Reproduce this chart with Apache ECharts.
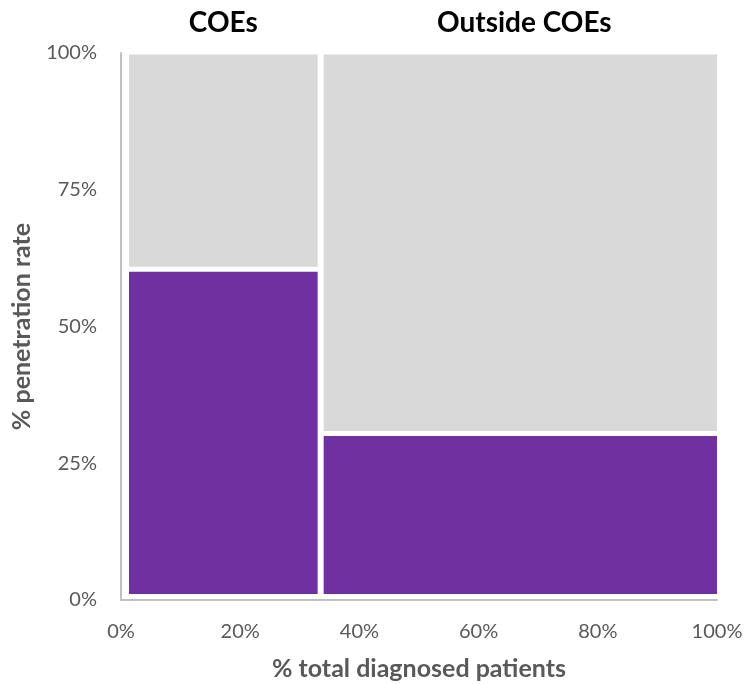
<!DOCTYPE html>
<html>
<head>
<meta charset="utf-8">
<script src="https://cdn.jsdelivr.net/npm/echarts@6/dist/echarts.min.js"></script>
<style>
  html, body { margin: 0; padding: 0; background: #fff; }
  #chart { width: 747px; height: 684px; }
</style>
</head>
<body>
<div id="chart"></div>
<script>
// Segments of the mekko: column width = share of diagnosed patients (%),
// purple height = penetration rate (%), grey fills the rest to 100%.
const segments = ['COEs', 'Outside COEs'];
const patientShare = [33.5, 66.5];
const penetration = [60, 30];
const xTicks = [0, 20, 40, 60, 80, 100];
const yTicks = [0, 25, 50, 75, 100];

const PURPLE = '#7030a0';
const GREY = '#d9d9d9';
const AXIS_TEXT = '#595959';
const FONT = 'Lato, "Open Sans", sans-serif';

// cumulative left edges of each column
const starts = [];
patientShare.reduce((acc, w, i) => { starts[i] = acc; return acc + w; }, 0);

const items = segments.map((name, i) => [starts[i], starts[i] + patientShare[i], penetration[i], name]);

function renderItem(params, api) {
  const i = params.dataIndex;
  const x0 = api.value(0), x1 = api.value(1), pen = api.value(2);
  const name = segments[i];
  const pBL = api.coord([x0, 0]);
  const pTR = api.coord([x1, 100]);
  const pPen = api.coord([x0, pen]);
  const last = i === segments.length - 1;
  // white separations between blocks
  const padL = i === 0 ? 8 : 3;
  const padR = last ? 0 : 3;
  const left = pBL[0] + padL;
  const right = pTR[0] - padR;
  const w = right - left;
  const baseGap = 6, splitGap = 5, topGap = 1.5;
  const purpleTop = pPen[1];
  const purpleBottom = pBL[1] - baseGap;
  const greyTop = pTR[1] + topGap;
  const greyBottom = pPen[1] - splitGap;
  const cx = (left + right) / 2;
  return {
    type: 'group',
    children: [
      { type: 'rect', shape: { x: left, y: purpleTop, width: w, height: purpleBottom - purpleTop }, style: { fill: PURPLE } },
      { type: 'rect', shape: { x: left, y: greyTop, width: w, height: greyBottom - greyTop }, style: { fill: GREY } },
      { type: 'text', x: cx + (last ? 4 : 0), y: pTR[1] - 30,
        style: { text: name, fill: '#000', font: 'bold 28px ' + FONT, align: 'center', verticalAlign: 'middle' } }
    ]
  };
}

const chart = echarts.init(document.getElementById('chart'), null, { renderer: 'canvas' });
chart.setOption({
  animation: false,
  grid: { left: 121, right: 30, top: 53, bottom: 84, outerBoundsMode: 'none', containLabel: false },
  xAxis: {
    type: 'value', min: xTicks[0], max: xTicks[xTicks.length - 1], interval: xTicks[1] - xTicks[0],
    name: '% total diagnosed patients', nameLocation: 'middle', nameGap: 56,
    nameTextStyle: { color: AXIS_TEXT, fontFamily: FONT, fontWeight: 'bold', fontSize: 25 },
    axisLine: { show: true, lineStyle: { color: '#c0c0c0', width: 2 } },
    axisTick: { show: false },
    splitLine: { show: false },
    axisLabel: { color: AXIS_TEXT, fontFamily: FONT, fontSize: 20, margin: 22, formatter: v => v + '%' }
  },
  yAxis: {
    type: 'value', min: yTicks[0], max: yTicks[yTicks.length - 1], interval: yTicks[1] - yTicks[0],
    name: '% penetration rate', nameLocation: 'middle', nameGap: 87, nameRotate: 90,
    nameTextStyle: { color: AXIS_TEXT, fontFamily: FONT, fontWeight: 'bold', fontSize: 25 },
    axisLine: { show: true, lineStyle: { color: '#c0c0c0', width: 2 } },
    axisTick: { show: false },
    splitLine: { show: false },
    axisLabel: { color: AXIS_TEXT, fontFamily: FONT, fontSize: 20, margin: 24, formatter: v => v + '%' }
  },
  series: [{
    type: 'custom',
    renderItem: renderItem,
    encode: { x: [0, 1], y: 2 },
    data: items,
    clip: false
  }]
});
</script>
</body>
</html>
